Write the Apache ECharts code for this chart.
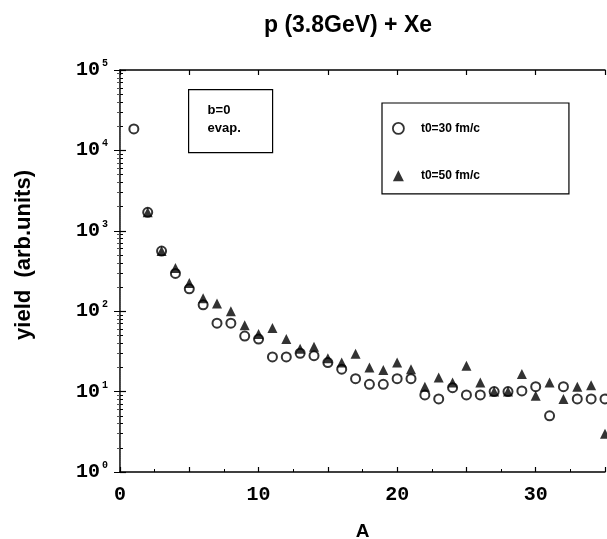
<!DOCTYPE html>
<html>
<head>
<meta charset="utf-8">
<script src="https://cdn.jsdelivr.net/npm/echarts@6/dist/echarts.min.js"></script>
<style>
  html, body { margin: 0; padding: 0; background: #fff; }
  #chart { width: 607px; height: 539px; }
</style>
</head>
<body>
<div id="chart"></div>
<script>
// mass number A
const massA = [1,2,3,4,5,6,7,8,9,10,11,12,13,14,15,16,17,18,19,20,21,22,23,24,25,26,27,28,29,30,31,32,33,34,35];
// t0=30 fm/c (open circles)
const yield30 = [18500,1700,560,295,190,120,71,71,49,45,27,27,30,28,23,19,14.5,12.3,12.3,14.5,14.5,9.1,8.1,11.2,9.1,9.1,10,10,10.2,11.5,5.0,11.5,8.1,8.1,8.1];
// t0=50 fm/c (filled triangles), starts at A=2
const yield50 = [null,1700,560,345,225,145,125,100,67,52,62,45,34,36,26,23,29.5,20,18.6,23,19,11.5,15,13,21,13,10,10,16.5,8.9,13,8.1,11.5,12,3.0];

const monoFont = '"Liberation Mono", "DejaVu Sans Mono", monospace';
const sansFont = '"Liberation Sans", Arial, sans-serif';

const chart = echarts.init(document.getElementById('chart'), null, { renderer: 'canvas' });

const pairs = arr => massA.map((a, i) => [a, arr[i]]).filter(p => p[1] != null);

const yLabel = {
  color: '#000',
  margin: 12,
  formatter: v => {
    const e = Math.round(Math.log10(v));
    return Math.abs(Math.log10(v) - e) < 1e-6 ? '{b|10}{s|' + e + '}' : '';
  },
  rich: {
    b: { fontFamily: monoFont, fontWeight: 'bold', fontSize: 20, color: '#000' },
    s: { fontFamily: monoFont, fontWeight: 'bold', fontSize: 10, color: '#000', padding: [0, 0, 13, 2] }
  }
};

chart.setOption({
  animation: false,
  backgroundColor: '#fff',
  title: {
    text: 'p (3.8GeV) + Xe',
    left: 343,
    top: 9,
    textAlign: 'center',
    textStyle: { fontFamily: sansFont, fontWeight: 'bold', fontSize: 23, color: '#000' }
  },
  grid: { left: 120, right: 2, top: 70, bottom: 67, containLabel: false, outerBoundsMode: 'none' },
  legend: {
    orient: 'vertical',
    left: 382,
    top: 103,
    padding: [19, 89, 12, 10],
    itemGap: 35,
    itemWidth: 11,
    itemHeight: 11,
    borderColor: '#000',
    borderWidth: 1.2,
    textStyle: { fontFamily: sansFont, fontWeight: 'bold', fontSize: 12, color: '#000', padding: [0, 0, 0, 12] },
    data: [
      { name: 't0=30 fm/c', icon: 'circle', itemStyle: { color: '#fff', borderColor: '#000', borderWidth: 1.8 } },
      { name: 't0=50 fm/c', icon: 'triangle', itemStyle: { color: '#000' } }
    ]
  },
  xAxis: [
    {
      type: 'value', min: 0, max: 35, interval: 5,
      name: 'A', nameLocation: 'middle', nameGap: 50,
      nameTextStyle: { fontFamily: sansFont, fontWeight: 'bold', fontSize: 19, color: '#000' },
      axisLine: { lineStyle: { color: '#000', width: 1.5 } },
      axisTick: { inside: true, length: 5, lineStyle: { color: '#000', width: 1.2 } },
      minorTick: { show: true, splitNumber: 2, length: 3, lineStyle: { color: '#000' } },
      splitLine: { show: false },
      axisLabel: {
        color: '#000', margin: 13,
        fontFamily: monoFont, fontWeight: 'bold', fontSize: 20,
        formatter: v => (v % 10 === 0 ? String(v) : '')
      }
    },
    {
      type: 'value', min: 0, max: 35, interval: 5, position: 'top',
      axisLine: { show: true, lineStyle: { color: '#000', width: 1.5 } },
      axisTick: { show: true, inside: true, length: 5, lineStyle: { color: '#000', width: 1.2 } },
      axisLabel: { show: false },
      splitLine: { show: false }
    }
  ],
  yAxis: [
    {
      type: 'log', logBase: 10, min: 1, max: 100000,
      axisLine: { show: true, lineStyle: { color: '#000', width: 1.5 } },
      axisTick: { inside: true, length: 6, lineStyle: { color: '#000', width: 1.2 } },
      minorTick: { show: true, splitNumber: 9, length: 3, lineStyle: { color: '#000' } },
      splitLine: { show: false },
      axisLabel: yLabel
    },
    {
      type: 'log', logBase: 10, min: 1, max: 100000, position: 'right',
      axisLine: { show: true, lineStyle: { color: '#555', width: 1, type: 'dotted' } },
      axisTick: { show: true, inside: true, length: 6, lineStyle: { color: '#000' } },
      minorTick: { show: true, splitNumber: 9, length: 3, lineStyle: { color: '#555' } },
      axisLabel: { show: false },
      splitLine: { show: false }
    }
  ],
  graphic: [
    {
      type: 'text', x: 24, y: 255, rotation: Math.PI / 2,
      style: {
        text: 'yield  (arb.units)', fontFamily: sansFont, fontWeight: 'bold', fontSize: 22,
        fill: '#000', textAlign: 'center', textVerticalAlign: 'middle'
      }
    },
    {
      type: 'group', left: 188, top: 89,
      children: [
        { type: 'rect', shape: { x: 0, y: 0, width: 84, height: 63 }, style: { fill: '#fff', stroke: '#000', lineWidth: 1.2 } },
        { type: 'text', x: 19, y: 12, style: { text: 'b=0\nevap.', fontFamily: sansFont, fontWeight: 'bold', fontSize: 13, lineHeight: 18, fill: '#000' } }
      ]
    }
  ],
  series: [
    {
      name: 't0=30 fm/c', type: 'scatter', data: pairs(yield30),
      symbol: 'emptyCircle', symbolSize: 9, clip: false,
      itemStyle: { color: '#000', borderColor: '#000', borderWidth: 1.8 }
    },
    {
      name: 't0=50 fm/c', type: 'scatter', data: pairs(yield50),
      symbol: 'triangle', symbolSize: 10, clip: false,
      itemStyle: { color: '#000' }
    }
  ]
});
</script>
</body>
</html>
